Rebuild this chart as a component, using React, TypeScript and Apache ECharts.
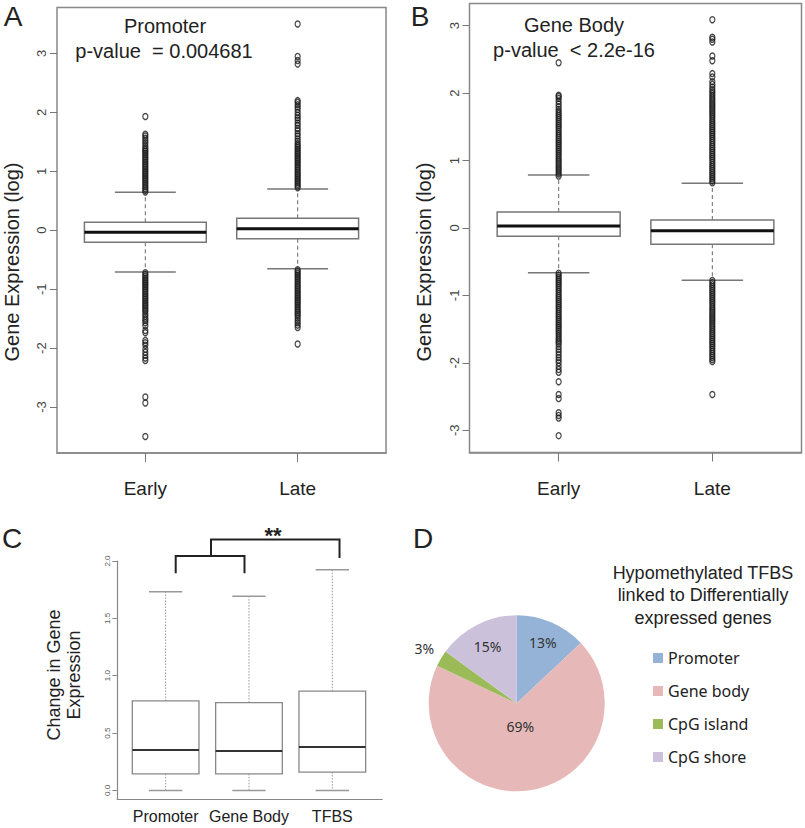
import React, { useEffect, useRef } from 'react';
import * as echarts from 'echarts';

// ---------- data ----------
const GROUPS_AB = ['Early', 'Late'];
const GROUPS_C = ['Promoter', 'Gene Body', 'TFBS'];
const AB_Y_TICKS = [-3, -2, -1, 0, 1, 2, 3];
const C_Y_TICKS = [0, 0.5, 1, 1.5, 2];

// [low whisker, Q1, median, Q3, high whisker]
const A_BOX_EARLY = [-0.71, -0.203, -0.034, 0.136, 0.644];
const A_BOX_LATE = [-0.654, -0.146, 0.024, 0.203, 0.70];
const B_BOX_EARLY = [-0.662, -0.123, 0.03, 0.237, 0.785];
const B_BOX_LATE = [-0.775, -0.242, -0.04, 0.118, 0.662];
const C_BOX_PROMOTER = [0, 0.145, 0.352, 0.78, 1.733];
const C_BOX_GENEBODY = [0, 0.145, 0.343, 0.766, 1.692];
const C_BOX_TFBS = [0, 0.16, 0.378, 0.865, 1.923];

const A_EARLY_OUT = [0.65, 0.68, 0.71, 0.74, 0.77, 0.80, 0.83, 0.86, 0.89, 0.92, 0.95, 0.98, 1.01, 1.04, 1.07, 1.10, 1.13, 1.16, 1.19, 1.22, 1.25, 1.28, 1.31, 1.34, 1.37, 1.40, 1.44, 1.48, 1.52, 1.56, 1.60, 1.63, 1.93,
  -0.72, -0.75, -0.78, -0.81, -0.84, -0.87, -0.90, -0.93, -0.96, -0.99, -1.02, -1.05, -1.08, -1.11, -1.14, -1.17, -1.20, -1.23, -1.26, -1.29, -1.32, -1.35, -1.38, -1.42, -1.46, -1.50, -1.53, -1.57, -1.62, -1.70, -1.74, -1.87, -1.91, -1.95, -2.02, -2.07, -2.12, -2.17, -2.21, -2.83, -2.93, -3.50];
const A_LATE_OUT = [0.72, 0.75, 0.78, 0.81, 0.84, 0.87, 0.90, 0.93, 0.96, 0.99, 1.02, 1.05, 1.08, 1.11, 1.14, 1.17, 1.20, 1.23, 1.26, 1.29, 1.32, 1.35, 1.38, 1.41, 1.44, 1.47, 1.51, 1.55, 1.60, 1.64, 1.69, 1.73, 1.78, 1.82, 1.87, 1.91, 1.95, 2.00, 2.05, 2.09, 2.13, 2.17, 2.20, 2.82, 2.88, 2.95, 3.50,
  -0.67, -0.70, -0.73, -0.76, -0.79, -0.82, -0.85, -0.88, -0.91, -0.94, -0.97, -1.00, -1.03, -1.06, -1.09, -1.12, -1.15, -1.18, -1.21, -1.24, -1.27, -1.30, -1.33, -1.36, -1.39, -1.42, -1.45, -1.49, -1.53, -1.57, -1.61, -1.65, -1.93];
const B_EARLY_OUT = [0.77, 0.80, 0.83, 0.86, 0.89, 0.92, 0.95, 0.98, 1.01, 1.04, 1.07, 1.10, 1.13, 1.16, 1.19, 1.22, 1.25, 1.28, 1.31, 1.34, 1.37, 1.40, 1.43, 1.46, 1.49, 1.52, 1.55, 1.58, 1.61, 1.64, 1.67, 1.70, 1.73, 1.76, 1.80, 1.84, 1.88, 1.92, 1.95, 1.97, 2.45,
  -0.67, -0.70, -0.73, -0.76, -0.79, -0.82, -0.85, -0.88, -0.91, -0.94, -0.97, -1.00, -1.03, -1.06, -1.09, -1.12, -1.15, -1.18, -1.21, -1.24, -1.27, -1.30, -1.33, -1.36, -1.39, -1.42, -1.45, -1.48, -1.51, -1.54, -1.57, -1.60, -1.63, -1.66, -1.69, -1.72, -1.76, -1.80, -1.84, -1.88, -1.92, -1.96, -2.00, -2.05, -2.10, -2.14, -2.28, -2.47, -2.53, -2.74, -2.78, -2.82, -3.08];
const B_LATE_OUT = [0.67, 0.70, 0.73, 0.76, 0.79, 0.82, 0.85, 0.88, 0.91, 0.94, 0.97, 1.00, 1.03, 1.06, 1.09, 1.12, 1.15, 1.18, 1.21, 1.24, 1.27, 1.30, 1.33, 1.36, 1.39, 1.42, 1.45, 1.48, 1.51, 1.54, 1.57, 1.60, 1.63, 1.66, 1.69, 1.72, 1.75, 1.78, 1.81, 1.84, 1.87, 1.90, 1.93, 1.96, 1.99, 2.02, 2.05, 2.09, 2.13, 2.17, 2.24, 2.29, 2.48, 2.55, 2.76, 2.80, 2.83, 3.09,
  -0.78, -0.81, -0.84, -0.87, -0.90, -0.93, -0.96, -0.99, -1.02, -1.05, -1.08, -1.11, -1.14, -1.17, -1.20, -1.23, -1.26, -1.29, -1.32, -1.35, -1.38, -1.41, -1.44, -1.47, -1.50, -1.53, -1.56, -1.59, -1.62, -1.65, -1.68, -1.71, -1.74, -1.77, -1.80, -1.83, -1.86, -1.89, -1.92, -1.95, -1.98, -2.47];

const PIE_NAMES = ['Promoter', 'Gene body', 'CpG island', 'CpG shore'];
const PIE_VALUES = [13, 69, 3, 15];
const PIE_COLORS = ['#95B3D7', '#E6B9B8', '#9BBB59', '#CCC1DA'];
const PIE_LABEL_RADII = [0.75, 0.27, 1.22, 0.73];

// ---------- layout ----------
const PIE_CENTER = [516.7, 703.3];
const PIE_RADIUS = 88;
const FONT = 'Liberation Sans';

type BoxStyle = {
  whisker: string; whiskerW: number; dash: number[];
  cap: string; capW: number; box: string; boxW: number; median: string; medianW: number;
};

const boxRenderer = (st: BoxStyle) => (params: any, api: any) => {
  const x = api.value(0);
  const low = api.value(1), q1 = api.value(2), med = api.value(3), q3 = api.value(4), high = api.value(5);
  const unit = api.size([1, 0])[0];
  const half = unit * 0.4;
  const capHalf = unit * 0.2;
  const cx = api.coord([x, 0])[0];
  const py = (v: number) => api.coord([x, v])[1];
  const yLow = py(low), yQ1 = py(q1), yMed = py(med), yQ3 = py(q3), yHigh = py(high);
  const line = (x1: number, y1: number, x2: number, y2: number, style: any) => ({
    type: 'line', shape: { x1, y1, x2, y2 }, style,
  });
  const wStyle = { stroke: st.whisker, lineWidth: st.whiskerW, lineDash: st.dash };
  const cStyle = { stroke: st.cap, lineWidth: st.capW };
  return {
    type: 'group',
    children: [
      line(cx, yQ3, cx, yHigh, wStyle),
      line(cx, yQ1, cx, yLow, wStyle),
      line(cx - capHalf, yHigh, cx + capHalf, yHigh, cStyle),
      line(cx - capHalf, yLow, cx + capHalf, yLow, cStyle),
      {
        type: 'rect',
        shape: { x: cx - half, y: yQ3, width: 2 * half, height: yQ1 - yQ3 },
        style: { fill: '#fff', stroke: st.box, lineWidth: st.boxW },
      },
      line(cx - half, yMed, cx + half, yMed, { stroke: st.median, lineWidth: st.medianW }),
    ],
  };
};

const R_STYLE: BoxStyle = {
  whisker: '#777', whiskerW: 1.1, dash: [4, 3], cap: '#777', capW: 1.5,
  box: '#777', boxW: 1.5, median: '#111', medianW: 3,
};
const C_STYLE: BoxStyle = {
  whisker: '#999', whiskerW: 1, dash: [1.5, 1.5], cap: '#999', capW: 1.5,
  box: '#888', boxW: 1.3, median: '#333', medianW: 2,
};

const outlierSeries = (xi: number, x: number, vals: number[]) => ({
  type: 'scatter',
  xAxisIndex: xi,
  yAxisIndex: xi,
  silent: true,
  symbol: 'circle',
  symbolSize: [5, 6],
  itemStyle: { color: 'transparent', borderColor: '#1a1a1a', borderWidth: 1.3 },
  data: vals.map((v) => [x, v]),
  z: 5,
});

const yAxisR = (gi: number, min: number, max: number) => ({
  type: 'value', gridIndex: gi, min, max,
  splitLine: { show: false },
  axisLine: { show: false },
  axisTick: { show: true, length: 7, customValues: AB_Y_TICKS, lineStyle: { color: '#777', width: 1 } },
  axisLabel: {
    customValues: AB_Y_TICKS, rotate: 90, fontSize: 13, color: '#444', margin: 9, fontFamily: FONT,
    formatter: (v: number) => String(v),
  },
});

const xAxisR = (gi: number) => ({
  type: 'value', gridIndex: gi, min: 0.42, max: 2.58,
  splitLine: { show: false },
  axisLine: { show: true, onZero: false, lineStyle: { color: '#888', width: 1.5 } },
  axisTick: { show: true, length: 9, customValues: [1, 2], lineStyle: { color: '#777', width: 1 } },
  axisLabel: {
    customValues: [1, 2], fontSize: 19, color: '#222', margin: 26, fontFamily: FONT,
    formatter: (v: number) => GROUPS_AB[Math.round(v) - 1],
  },
});

const txt = (x: number, y: number, text: string, size: number, extra: any = {}) => ({
  type: 'text', x, y, ...extra,
  style: {
    text, font: `${extra.weight || 'normal'} ${size}px "${extra.family || FONT}"`,
    fill: extra.fill || '#222', textAlign: 'center', textVerticalAlign: 'middle',
    lineHeight: extra.lineHeight,
  },
});

export default function App() {
  const ref = useRef<HTMLDivElement>(null);
  useEffect(() => {
    if (!ref.current) return;
    const chart = echarts.init(ref.current, undefined, { renderer: 'svg' });
    const total = PIE_VALUES.reduce((a, b) => a + b, 0);

    const option: any = {
      animation: false,
      backgroundColor: '#fff',
      textStyle: { fontFamily: FONT },
      grid: [
        { left: 57, top: 7.5, width: 329, height: 445.5, show: true, borderColor: '#888', borderWidth: 1.5, backgroundColor: 'transparent' },
        { left: 469.5, top: 3.5, width: 332, height: 449, show: true, borderColor: '#888', borderWidth: 1.5, backgroundColor: 'transparent' },
        { left: 117.3, top: 561, width: 265, height: 238.3, show: false },
      ],
      xAxis: [
        xAxisR(0),
        xAxisR(1),
        {
          type: 'value', gridIndex: 2, min: 0.42, max: 3.6,
          splitLine: { show: false },
          axisLine: { show: true, onZero: false, lineStyle: { color: '#888', width: 1.2 } },
          axisTick: { show: false },
          axisLabel: {
            customValues: [1, 2, 3], fontSize: 16, color: '#222', margin: 9, fontFamily: FONT,
            formatter: (v: number) => GROUPS_C[Math.round(v) - 1],
          },
        },
      ],
      yAxis: [
        yAxisR(0, -3.78, 3.78),
        yAxisR(1, -3.33, 3.33),
        {
          type: 'value', gridIndex: 2, min: -0.077, max: 2.0,
          splitLine: { show: false },
          axisLine: { show: true, onZero: false, lineStyle: { color: '#888', width: 1.2 } },
          axisTick: { show: true, length: 5, customValues: C_Y_TICKS, lineStyle: { color: '#888' } },
          axisLabel: {
            customValues: C_Y_TICKS, rotate: 90, fontSize: 8, color: '#555', margin: 6, fontFamily: FONT,
            formatter: (v: number) => v.toFixed(1),
          },
        },
      ],
      legend: {
        orient: 'vertical', left: 648, top: 645,
        itemWidth: 10, itemHeight: 10, itemGap: 17, icon: 'rect',
        selectedMode: false,
        textStyle: { fontSize: 16, fontFamily: 'Noto Sans', color: '#222', lineHeight: 16 },
        data: PIE_NAMES,
      },
      series: [
        {
          type: 'custom', xAxisIndex: 0, yAxisIndex: 0, silent: true,
          renderItem: boxRenderer(R_STYLE),
          encode: { x: 0, y: [1, 2, 3, 4, 5] },
          data: [[1, ...A_BOX_EARLY], [2, ...A_BOX_LATE]],
          z: 3,
        },
        outlierSeries(0, 1, A_EARLY_OUT),
        outlierSeries(0, 2, A_LATE_OUT),
        {
          type: 'custom', xAxisIndex: 1, yAxisIndex: 1, silent: true,
          renderItem: boxRenderer(R_STYLE),
          encode: { x: 0, y: [1, 2, 3, 4, 5] },
          data: [[1, ...B_BOX_EARLY], [2, ...B_BOX_LATE]],
          z: 3,
        },
        outlierSeries(1, 1, B_EARLY_OUT),
        outlierSeries(1, 2, B_LATE_OUT),
        {
          type: 'custom', xAxisIndex: 2, yAxisIndex: 2, silent: true,
          renderItem: boxRenderer(C_STYLE),
          encode: { x: 0, y: [1, 2, 3, 4, 5] },
          data: [[1, ...C_BOX_PROMOTER], [2, ...C_BOX_GENEBODY], [3, ...C_BOX_TFBS]],
          z: 3,
        },
        {
          type: 'pie',
          center: PIE_CENTER,
          radius: PIE_RADIUS,
          startAngle: 90,
          clockwise: true,
          silent: true,
          itemStyle: { borderWidth: 0 },
          label: {
            show: true, position: 'inside', formatter: '{c}%',
            fontSize: 14, fontFamily: 'Noto Sans', color: '#333',
          },
          labelLine: { show: false },
          labelLayout: (p: any) => {
            const i = p.dataIndex;
            let before = 0;
            for (let k = 0; k < i; k++) before += PIE_VALUES[k];
            const mid = ((before + PIE_VALUES[i] / 2) / total) * Math.PI * 2;
            const r = PIE_RADIUS * PIE_LABEL_RADII[i];
            return {
              x: PIE_CENTER[0] + r * Math.sin(mid),
              y: PIE_CENTER[1] - r * Math.cos(mid),
              align: 'center', verticalAlign: 'middle',
            };
          },
          data: PIE_NAMES.map((n, i) => ({ name: n, value: PIE_VALUES[i], itemStyle: { color: PIE_COLORS[i] } })),
        },
      ],
      graphic: [
        txt(13, 16, 'A', 28),
        txt(420, 16, 'B', 28),
        txt(12, 538, 'C', 28),
        txt(423, 538, 'D', 28),
        txt(165, 26, 'Promoter', 20),
        txt(164, 51, 'p-value  = 0.004681', 20),
        txt(574, 25, 'Gene Body', 20),
        txt(574, 50, 'p-value  < 2.2e-16', 20),
        txt(12, 262, 'Gene Expression (log)', 20, { rotation: Math.PI / 2 }),
        txt(424, 262, 'Gene Expression (log)', 20, { rotation: Math.PI / 2 }),
        txt(64, 675, 'Change in Gene\nExpression', 18, { rotation: Math.PI / 2, lineHeight: 20 }),
        txt(273, 535, '**', 22, { weight: 'bold' }),
        txt(703, 595, 'Hypomethylated TFBS\nlinked to Differentially\nexpressed genes', 18, { lineHeight: 22.5 }),
        {
          type: 'polyline',
          shape: { points: [[175.7, 573.3], [175.7, 556], [244.5, 556], [244.5, 573.3]] },
          style: { stroke: '#222', lineWidth: 2, fill: 'none' },
        },
        {
          type: 'polyline',
          shape: { points: [[211, 556], [211, 539.5], [339.5, 539.5], [339.5, 558]] },
          style: { stroke: '#222', lineWidth: 2, fill: 'none' },
        },
      ],
    };
    chart.setOption(option);
    return () => chart.dispose();
  }, []);
  return (
    <div
      ref={ref}
      style={{ position: 'absolute', left: 0, top: 0, width: 805, height: 828, background: '#fff' }}
    />
  );
}
